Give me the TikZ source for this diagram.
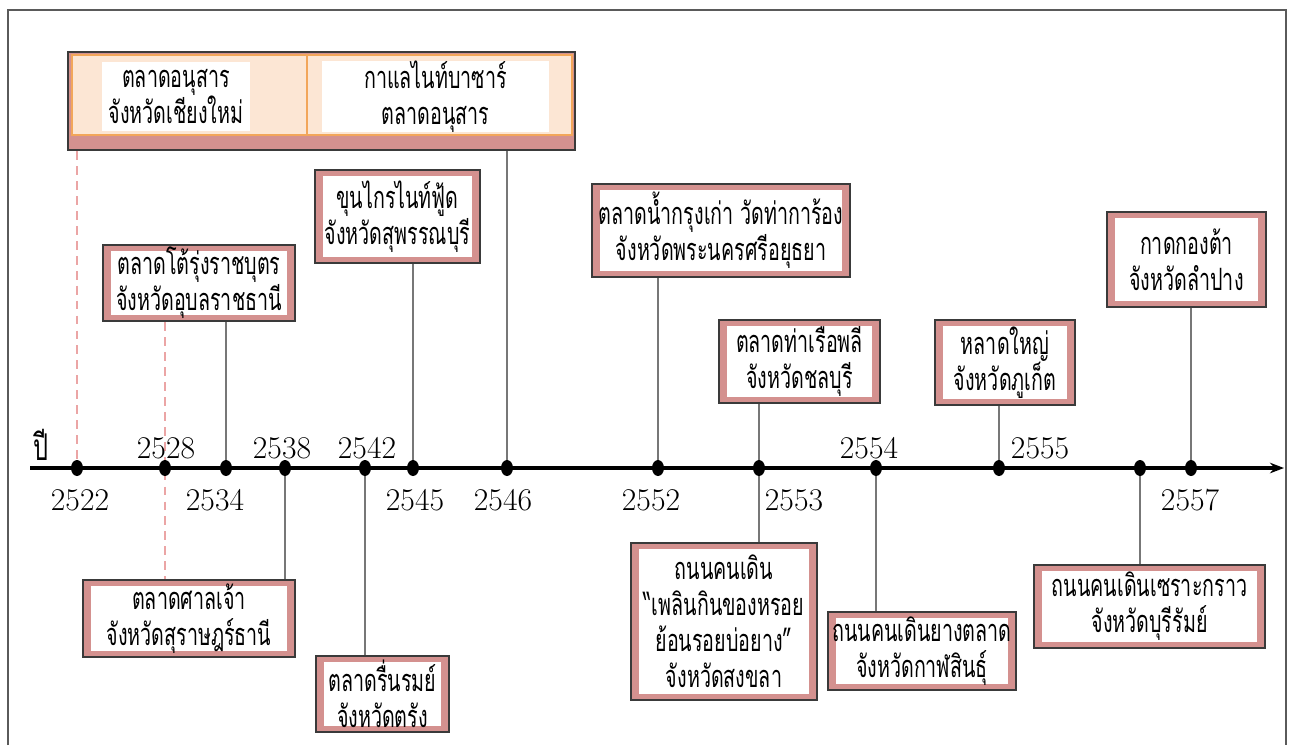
\documentclass[tikz,border=0pt]{standalone}
\usepackage{fontspec}
\newfontfamily\thaifont[Script=Thai,FakeStretch=0.64]{Loma}
\usetikzlibrary{positioning, arrows.meta, shapes.geometric, backgrounds}
\definecolor{cPink}{HTML}{D4918F}
\definecolor{cEdge}{HTML}{3A3A3A}
\definecolor{cStem}{HTML}{777777}
\definecolor{cDash}{HTML}{EBA5A5}
\definecolor{cOrange}{HTML}{F2A65A}
\definecolor{cPeach}{HTML}{FCE6D4}
\definecolor{cFrame}{HTML}{5A5A5A}
\tikzset{
  eventbox/.style={
    draw=cEdge, fill=cPink, line width=1.5pt, inner sep=0pt, align=center,
    font=\thaifont\fontsize{17.5}{20.5}\selectfont,
    path picture={\fill[white]
      ([shift={(0.16cm,0.12cm)}]path picture bounding box.south west) rectangle
      ([shift={(-0.16cm,-0.12cm)}]path picture bounding box.north east);}
  },
  cellbox/.style={
    draw=cOrange, fill=cPeach, line width=1.2pt, minimum height=1.6cm
  },
  cellfill/.style={
    fill=white, inner sep=0pt, minimum height=1.38cm, align=center,
    font=\thaifont\fontsize{17.5}{20.5}\selectfont
  },
  dot/.style={
    ellipse, fill=black, inner sep=0pt, minimum width=0.24cm, minimum height=0.32cm
  },
  yearlabel/.style={
    font=\fontsize{18}{20}\selectfont
  },
  stem/.style={
    draw=cStem, line width=1.3pt
  },
  pinkdash/.style={
    draw=cDash, line width=1.5pt, dash pattern=on 5pt off 3.5pt
  },
}

\begin{document}
\begin{tikzpicture}[x=0.02cm, y=-0.02cm]
\useasboundingbox (0,0) rectangle (1290,745);

% frame
\draw[cFrame, line width=0.8pt] (8,745) -- (8,10) -- (1286,10) -- (1286,745);

% axis dots
\node[dot] (d2522) at (77,468) {};
\node[dot] (d2528) at (165,468) {};
\node[dot] (d2534) at (226,468) {};
\node[dot] (d2538) at (285,468) {};
\node[dot] (d2542) at (365,468) {};
\node[dot] (d2545) at (413,468) {};
\node[dot] (d2546) at (507,468) {};
\node[dot] (d2552) at (658,468) {};
\node[dot] (d2553) at (759,468) {};
\node[dot] (d2554) at (876,468) {};
\node[dot] (d2555) at (999,468) {};
\node[dot] (d2556) at (1140,468) {};
\node[dot] (d2557) at (1191,468) {};
\coordinate (axstart) at (30,468);
\coordinate (axend) at (1284,468);

% years
\node[font=\thaifont\fontsize{21}{23}\selectfont] (pi) at (41,445) {ปี};
\node[yearlabel] (y2522) at (80,500) {2522};
\node[yearlabel] (y2528) at (166,448) {2528};
\node[yearlabel] (y2534) at (215,500) {2534};
\node[yearlabel] (y2538) at (282,448) {2538};
\node[yearlabel] (y2542) at (367,448) {2542};
\node[yearlabel] (y2545) at (415,500) {2545};
\node[yearlabel] (y2546) at (503,500) {2546};
\node[yearlabel] (y2552) at (651,500) {2552};
\node[yearlabel] (y2553) at (794,500) {2553};
\node[yearlabel] (y2554) at (869,448) {2554};
\node[yearlabel] (y2555) at (1040,448) {2555};
\node[yearlabel] (y2557) at (1190,500) {2557};

% top box: Chiang Mai
\node[draw=cEdge, fill=cPink, line width=1.5pt, minimum width=10.14cm, minimum height=1.96cm] (topbox) at (321.5,101) {};
\node[cellbox, minimum width=4.7cm] (cmcell) at (189.5,95) {};
\node[cellbox, minimum width=5.3cm] (cafecell) at (439.5,95) {};
\node[cellfill, minimum width=2.96cm] (chiangmai) at (176,96.5) {ตลาดอนุสาร\\จังหวัดเชียงใหม่};
\node[cellfill, minimum width=4.54cm] (cafe) at (435.5,96.5) {กาแลไนท์บาซาร์\\ตลาดอนุสาร};

% boxes above the axis
\node[eventbox, minimum width=3.84cm, minimum height=1.52cm] (ubon) at (199,283) {ตลาดโต้รุ่งราชบุตร\\จังหวัดอุบลราชธานี};
\node[eventbox, minimum width=3.3cm, minimum height=1.86cm] (suphan) at (397.5,216.5) {ขุนไกรไนท์ฟู้ด\\จังหวัดสุพรรณบุรี};
\node[eventbox, minimum width=5.16cm, minimum height=1.86cm] (ayut) at (721,230.5) {ตลาดน้ำกรุงเก่า วัดท่าการ้อง\\จังหวัดพระนครศรีอยุธยา};
\node[eventbox, minimum width=3.22cm, minimum height=1.66cm] (chonburi) at (799.5,361.5) {ตลาดท่าเรือพลี\\จังหวัดชลบุรี};
\node[eventbox, minimum width=2.8cm, minimum height=1.7cm] (phuket) at (1005,362.5) {หลาดใหญ่\\จังหวัดภูเก็ต};
\node[eventbox, minimum width=3.18cm, minimum height=1.9cm] (lampang) at (1186.5,259.5) {กาดกองต้า\\จังหวัดลำปาง};

% boxes below the axis
\node[eventbox, minimum width=4.24cm, minimum height=1.54cm] (surat) at (189,618.5) {ตลาดศาลเจ้า\\จังหวัดสุราษฎร์ธานี};
\node[eventbox, minimum width=2.66cm, minimum height=1.52cm] (trang) at (382.5,694) {ตลาดรื่นรมย์\\จังหวัดตรัง};
\node[eventbox, minimum width=3.72cm, minimum height=3.14cm] (songkhla) at (724,621.5) {ถนนคนเดิน\\“เพลินกินของหรอย\\ย้อนรอยบ่อยาง”\\จังหวัดสงขลา};
\node[eventbox, minimum width=3.76cm, minimum height=1.56cm] (kalasin) at (922,651) {ถนนคนเดินยางตลาด\\จังหวัดกาฬสินธุ์};
\node[eventbox, minimum width=4.62cm, minimum height=1.66cm] (buriram) at (1149.5,606.5) {ถนนคนเดินเซราะกราว\\จังหวัดบุรีรัมย์};

% axis and stems under the dots
\begin{scope}[on background layer]
\draw[line width=1.8pt, -{Stealth[length=8pt, width=6pt]}] (axstart) -- (axend);
\draw[pinkdash] (topbox.south -| d2522) -- (d2522);
\draw[pinkdash] (ubon.south -| d2528) -- (surat.north -| d2528);
\draw[stem] (ubon.south -| d2534) -- (d2534);
\draw[stem] (d2538) -- (surat.north -| d2538);
\draw[stem] (d2542) -- (trang.north -| d2542);
\draw[stem] (suphan.south -| d2545) -- (d2545);
\draw[stem] (topbox.south -| d2546) -- (d2546);
\draw[stem] (ayut.south -| d2552) -- (d2552);
\draw[stem] (chonburi.south -| d2553) -- (songkhla.north -| d2553);
\draw[stem] (d2554) -- (kalasin.north -| d2554);
\draw[stem] (phuket.south -| d2555) -- (d2555);
\draw[stem] (d2556) -- (buriram.north -| d2556);
\draw[stem] (lampang.south -| d2557) -- (d2557);
\end{scope}

\end{tikzpicture}
\end{document}
